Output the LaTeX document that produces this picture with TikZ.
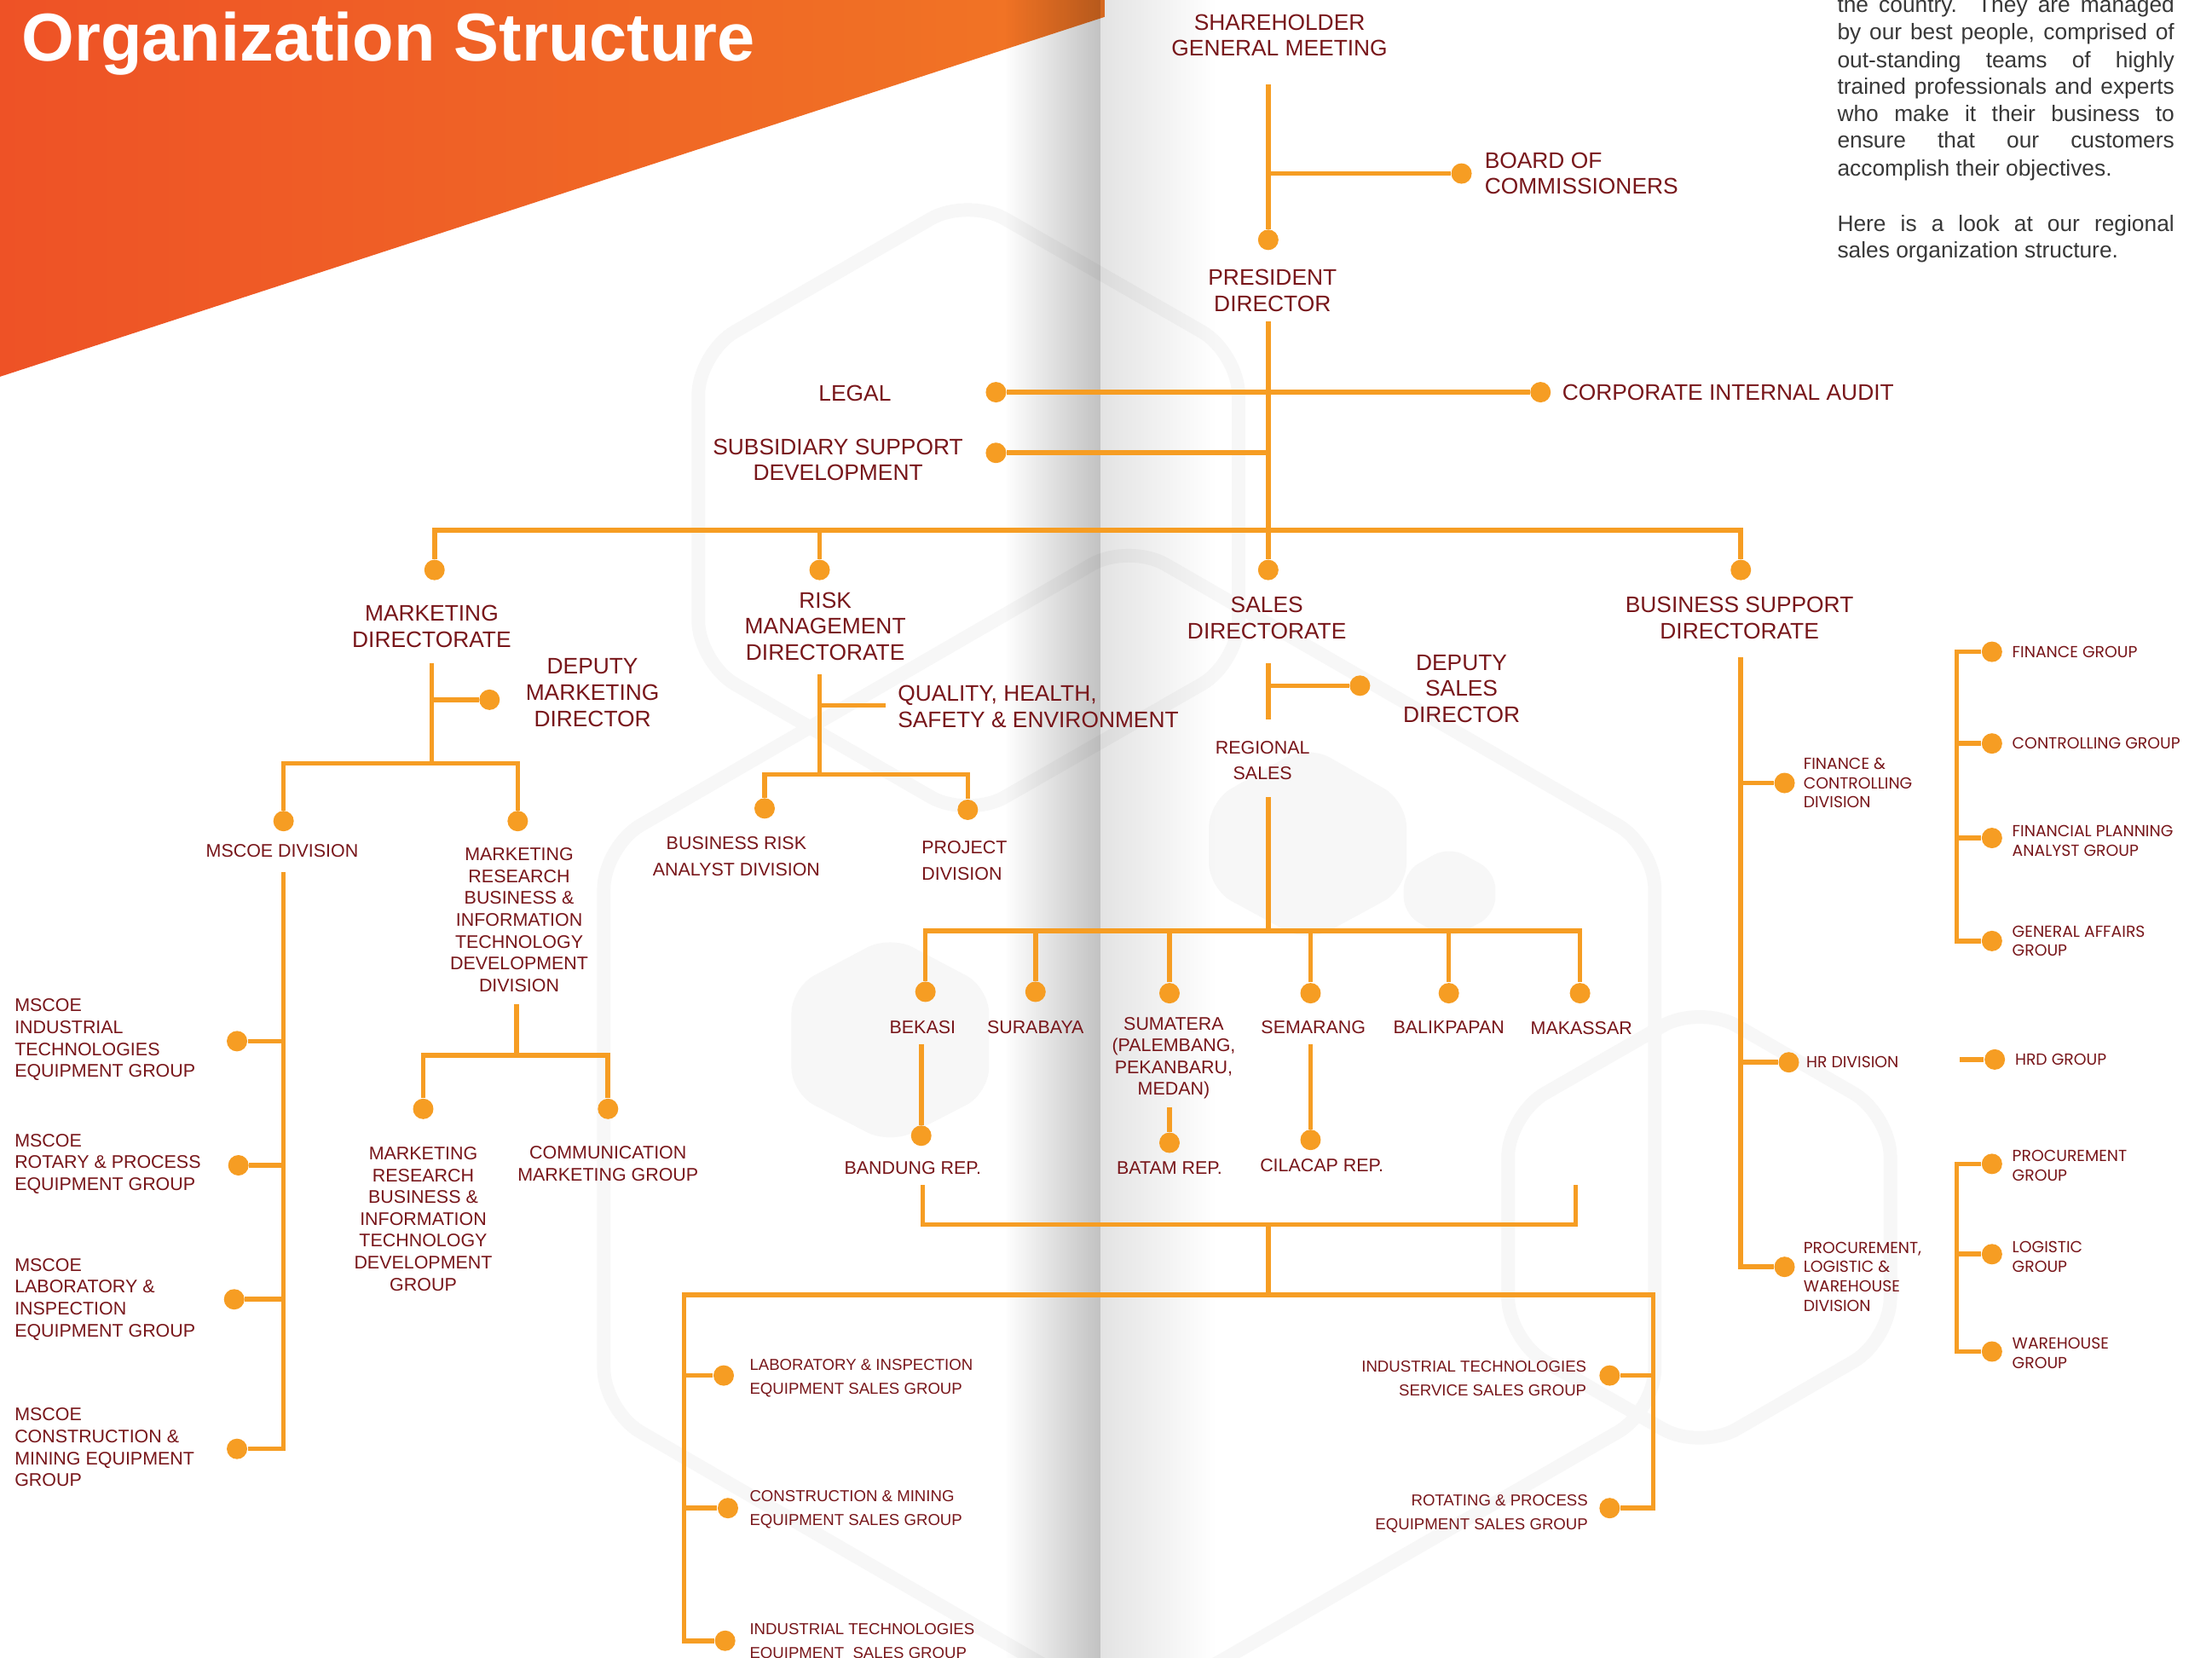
\documentclass[tikz,border=0pt]{standalone}
\usepackage{fontspec}
\setmainfont{Liberation Sans}
\newfontfamily\geofont{Poppins}
\usetikzlibrary{fadings}
\definecolor{orgline}{RGB}{246,157,35}
\definecolor{orgtext}{RGB}{120,22,26}
\definecolor{bannerL}{RGB}{238,82,38}
\definecolor{bannerR}{RGB}{241,118,37}
\definecolor{hexgray}{RGB}{247,247,247}
\tikzfading[name=fadein,left color=transparent!100,right color=transparent!76]
\tikzfading[name=fadeout,left color=transparent!89,right color=transparent!100]

\begin{document}
\begin{tikzpicture}[x=0.01655cm,y=-0.01655cm,
 ln/.style={orgline,line width=1.6pt},
 dot/.style={circle,fill=orgline,inner sep=0pt,minimum size=0.24cm},
 big/.style={orgtext,inner sep=0pt,align=center,font=\fontsize{7.5}{8.7}\selectfont},
 sml/.style={orgtext,inner sep=0pt,align=center,font=\fontsize{6.1}{7.3}\selectfont},
 smw/.style={orgtext,inner sep=0pt,align=center,font=\fontsize{6.1}{8.6}\selectfont},
 tny/.style={orgtext,inner sep=0pt,font=\fontsize{5.3}{7.9}\selectfont},
 geo/.style={orgtext,inner sep=0pt,align=left,anchor=west,font=\geofont\fontsize{5.35}{6.5}\selectfont},
 hex/.style={hexgray,line width=4.5pt,rounded corners=0.5cm},
 parl/.style={black!78,inner sep=0pt,anchor=base west,font=\fontsize{7.5}{9}\selectfont}]
\useasboundingbox (0,0) rectangle (1568,1175);
\clip (0,0) rectangle (1568,1175);
\fill[white] (0,0) rectangle (1568,1175);

% faint hexagons behind the chart
\draw[hex] (495,250) -- (686,140) -- (878,250) -- (878,470) -- (686,580) -- (495,470) -- cycle;
\draw[hex] (428,600) -- (800,385) -- (1173,600) -- (1173,1000) -- (800,1215) -- (428,1000) -- cycle;
\draw[hex] (1069,790) -- (1205,712) -- (1340,790) -- (1340,950) -- (1205,1028) -- (1069,950) -- cycle;
\fill[hexgray,rounded corners=0.3cm] (631,663) -- (701,700) -- (701,775) -- (631,811) -- (561,775) -- (561,700) -- cycle;
\fill[hexgray,rounded corners=0.3cm] (927,528) -- (997,568) -- (997,630) -- (927,668) -- (857,630) -- (857,568) -- cycle;
\fill[hexgray,rounded corners=0.2cm] (1027,600) -- (1060,618) -- (1060,648) -- (1027,666) -- (995,648) -- (995,618) -- cycle;

% banner
\shade[left color=bannerL,right color=bannerR] (0,0) -- (783,0) -- (783,12) -- (0,267) -- cycle;
\node[white,anchor=base west,inner sep=0pt,font=\bfseries\fontsize{22.6}{27}\selectfont] (title) at (15,43) {Organization Structure};

% gutter of the spread
\fill[black,path fading=fadein] (712,0) rectangle (780,1175);
\fill[black,path fading=fadeout] (780,0) rectangle (862,1175);

% text at the top right
\node[parl] (p1) at (1302,9) {\makebox[3.955cm][s]{the country. They are managed}};
\node[parl] (p2) at (1302,28) {\makebox[3.955cm][s]{by our best people, comprised of}};
\node[parl] (p3) at (1302,48) {\makebox[3.955cm][s]{out-standing teams of highly}};
\node[parl] (p4) at (1302,67) {\makebox[3.955cm][s]{trained professionals and experts}};
\node[parl] (p5) at (1302,86) {\makebox[3.955cm][s]{who make it their business to}};
\node[parl] (p6) at (1302,105) {\makebox[3.955cm][s]{ensure that our customers}};
\node[parl] (p7) at (1302,125) {accomplish their objectives.};
\node[parl] (p8) at (1302,164) {\makebox[3.955cm][s]{Here is a look at our regional}};
\node[parl] (p9) at (1302,183) {sales organization structure.};

% shareholders and board
\coordinate (SGb) at (899,60);
\coordinate (J1) at (899,123);
\node[big] (SGt) at (907,25) {SHAREHOLDER\\GENERAL MEETING};
\node[dot] (BC) at (1036,123) {};
\node[big,align=left,anchor=west] (BCt) at (1052,123) {BOARD OF\\COMMISSIONERS};
\node[dot] (PD) at (899,170) {};
\node[big] (PDt) at (902,206) {PRESIDENT\\DIRECTOR};
\draw[ln] (SGb)--(PD);
\draw[ln] (J1)--(BC);

% president director
\coordinate (PDb) at (899,228);
\coordinate (J3) at (899,321);
\coordinate (BL) at (308,376);
\coordinate (BR) at (1234,376);
\coordinate (BM) at (581,376);
\node[dot] (LG) at (706,278) {};
\node[dot] (CA) at (1092,278) {};
\node[dot] (SS) at (706,321) {};
\node[big] (LGt) at (606,279) {LEGAL};
\node[big,anchor=west] (CAt) at (1107,278) {CORPORATE INTERNAL AUDIT};
\node[big] (SSt) at (594,326) {SUBSIDIARY SUPPORT\\DEVELOPMENT};

% directorates
\node[dot] (MD) at (308,404) {};
\node[dot] (RD) at (581,404) {};
\node[dot] (SD) at (899,404) {};
\node[dot] (BD) at (1234,404) {};
\node[big] (MDt) at (306,444) {MARKETING\\DIRECTORATE};
\node[big] (RDt) at (585,444) {RISK\\MANAGEMENT\\DIRECTORATE};
\node[big] (SDt) at (898,438) {SALES\\DIRECTORATE};
\node[big] (BDt) at (1233,438) {BUSINESS SUPPORT\\DIRECTORATE};
\draw[ln] (LG)--(CA);
\draw[ln] (SS)--(J3);
\draw[ln] (PDb)--(SD);
\draw[ln] (MD)--(BL)--(BR)--(BD);
\draw[ln] (BM)--(RD);

% marketing
\coordinate (MDb) at (306,470);
\coordinate (J5) at (306,496);
\coordinate (J6) at (306,541);
\coordinate (J6l) at (201,541);
\coordinate (J6r) at (367,541);
\node[dot] (DM) at (347,496) {};
\node[big] (DMt) at (420,491) {DEPUTY\\MARKETING\\DIRECTOR};
\node[dot] (MS) at (201,582) {};
\node[dot] (MR) at (367,582) {};
\node[sml] (MSt) at (200,603) {MSCOE DIVISION};
\node[sml] (MRt) at (368,652) {MARKETING\\RESEARCH\\BUSINESS \&\\INFORMATION\\TECHNOLOGY\\DEVELOPMENT\\DIVISION};
\draw[ln] (MDb)--(J6);
\draw[ln] (J5)--(DM);
\draw[ln] (MS)--(J6l)--(J6r)--(MR);

\coordinate (MSb) at (201,618);
\coordinate (K1) at (201,738);
\coordinate (K2) at (201,826);
\coordinate (K3) at (201,921);
\coordinate (K4) at (201,1027);
\node[dot] (G1) at (168,738) {};
\node[dot] (G2) at (169,826) {};
\node[dot] (G3) at (166,921) {};
\node[dot] (G4) at (168,1027) {};
\node[sml,align=left,anchor=west] (G1t) at (10,737) {MSCOE\\INDUSTRIAL\\TECHNOLOGIES\\EQUIPMENT GROUP};
\node[sml,align=left,anchor=west] (G2t) at (10,825) {MSCOE\\ROTARY \& PROCESS\\EQUIPMENT GROUP};
\node[sml,align=left,anchor=west] (G3t) at (10,921) {MSCOE\\LABORATORY \&\\INSPECTION\\EQUIPMENT GROUP};
\node[sml,align=left,anchor=west] (G4t) at (10,1026) {MSCOE\\CONSTRUCTION \&\\MINING EQUIPMENT\\GROUP};
\draw[ln] (MSb)--(K4)--(G4);
\draw[ln] (K1)--(G1);
\draw[ln] (K2)--(G2);
\draw[ln] (K3)--(G3);

\coordinate (MRb) at (366,712);
\coordinate (J7) at (366,748);
\coordinate (J7l) at (300,748);
\coordinate (J7r) at (431,748);
\node[dot] (MG) at (300,786) {};
\node[dot] (CM) at (431,786) {};
\node[sml] (MGt) at (300,864) {MARKETING\\RESEARCH\\BUSINESS \&\\INFORMATION\\TECHNOLOGY\\DEVELOPMENT\\GROUP};
\node[sml] (CMt) at (431,825) {COMMUNICATION\\MARKETING GROUP};
\draw[ln] (MRb)--(J7);
\draw[ln] (MG)--(J7l)--(J7r)--(CM);

% risk management
\coordinate (RDb) at (581,478);
\coordinate (J8) at (581,500);
\coordinate (QHe) at (628,500);
\coordinate (J9) at (581,549);
\coordinate (J9l) at (542,549);
\coordinate (J9r) at (686,549);
\node[big,align=left,anchor=west] (QHt) at (636,501) {QUALITY, HEALTH,\\SAFETY \& ENVIRONMENT};
\node[dot] (BA) at (542,573) {};
\node[dot] (PJ) at (686,574) {};
\node[smw] (BAt) at (522,607) {BUSINESS RISK\\ANALYST DIVISION};
\node[smw,align=left,anchor=west] (PJt) at (653,610) {PROJECT\\DIVISION};
\draw[ln] (RDb)--(J9);
\draw[ln] (J8)--(QHe);
\draw[ln] (BA)--(J9l)--(J9r)--(PJ);

% sales
\coordinate (SDb) at (899,470);
\coordinate (J10) at (899,486);
\coordinate (J10b) at (899,510);
\node[dot] (DS) at (964,486) {};
\node[big] (DSt) at (1036,488) {DEPUTY\\SALES\\DIRECTOR};
\node[smw] (RSt) at (895,539) {REGIONAL\\SALES};
\draw[ln] (SDb)--(J10b);
\draw[ln] (J10)--(DS);

\coordinate (RSb) at (899,565);
\coordinate (J11) at (899,660);
\coordinate (J11l) at (656,660);
\coordinate (J11r) at (1120,660);
\node[dot] (C1) at (656,703) {};
\node[dot] (C2) at (734,703) {};
\node[dot] (C3) at (829,704) {};
\node[dot] (C4) at (929,704) {};
\node[dot] (C5) at (1027,704) {};
\node[dot] (C6) at (1120,704) {};
\draw[ln] (RSb)--(J11);
\draw[ln] (C1)--(J11l)--(J11r)--(C6);
\draw[ln] (C2)--(C2|-J11);
\draw[ln] (C3)--(C3|-J11);
\draw[ln] (C4)--(C4|-J11);
\draw[ln] (C5)--(C5|-J11);
\node[sml] (C1t) at (654,728) {BEKASI};
\node[sml] (C2t) at (734,728) {SURABAYA};
\node[sml] (C3t) at (832,750) {SUMATERA\\(PALEMBANG,\\PEKANBARU,\\MEDAN)};
\node[sml] (C4t) at (931,728) {SEMARANG};
\node[sml] (C5t) at (1027,728) {BALIKPAPAN};
\node[sml] (C6t) at (1121,729) {MAKASSAR};

\coordinate (C1b) at (653,740);
\coordinate (C3b) at (829,785);
\coordinate (C4b) at (929,740);
\node[dot] (R1) at (653,805) {};
\node[dot] (R2) at (829,810) {};
\node[dot] (R3) at (929,808) {};
\node[sml] (R1t) at (647,828) {BANDUNG REP.};
\node[sml] (R2t) at (829,828) {BATAM REP.};
\node[sml] (R3t) at (937,826) {CILACAP REP.};
\draw[ln] (C1b)--(R1);
\draw[ln] (C3b)--(R2);
\draw[ln] (C4b)--(R3);

\coordinate (Q1) at (654,840);
\coordinate (Q2) at (654,868);
\coordinate (Q3) at (1117,868);
\coordinate (Q4) at (1117,840);
\coordinate (Q5) at (899,868);
\coordinate (Q6) at (899,918);
\coordinate (Q7) at (485,918);
\coordinate (Q8) at (1172,918);
\coordinate (Q9) at (485,1163);
\coordinate (Q10) at (1172,1069);
\node[dot] (S1) at (513,975) {};
\node[dot] (S2) at (516,1069) {};
\node[dot] (S3) at (514,1163) {};
\node[dot] (S4) at (1141,975) {};
\node[dot] (S5) at (1141,1069) {};
\draw[ln] (Q1)--(Q2)--(Q3)--(Q4);
\draw[ln] (Q5)--(Q6);
\draw[ln] (S3)--(Q9)--(Q7)--(Q8)--(Q10)--(S5);
\draw[ln] (S1-|Q7)--(S1);
\draw[ln] (S2-|Q7)--(S2);
\draw[ln] (S4-|Q8)--(S4);
\node[tny,align=left,anchor=west] (S1t) at (531,977) {LABORATORY \& INSPECTION\\EQUIPMENT SALES GROUP};
\node[tny,align=left,anchor=west] (S2t) at (531,1070) {CONSTRUCTION \& MINING\\EQUIPMENT SALES GROUP};
\node[tny,align=left,anchor=west] (S3t) at (531,1164) {INDUSTRIAL TECHNOLOGIES\\EQUIPMENT\ \ SALES GROUP};
\node[tny,align=right,anchor=east] (S4t) at (1125,977) {INDUSTRIAL TECHNOLOGIES\\SERVICE SALES GROUP};
\node[tny,align=right,anchor=east] (S5t) at (1126,1073) {ROTATING \& PROCESS\\EQUIPMENT SALES GROUP};

% business support
\coordinate (BDb) at (1234,466);
\coordinate (L3) at (1234,898);
\node[dot] (FC) at (1265,555) {};
\node[dot] (HR) at (1268,753) {};
\node[dot] (PL) at (1265,898) {};
\draw[ln] (BDb)--(L3)--(PL);
\draw[ln] (FC-|BDb)--(FC);
\draw[ln] (HR-|BDb)--(HR);
\node[geo] (FCt) at (1278,555) {FINANCE \&\\CONTROLLING\\DIVISION};
\node[geo] (HRt) at (1280,753) {HR DIVISION};
\node[geo] (PLt) at (1278,905) {PROCUREMENT,\\LOGISTIC \&\\WAREHOUSE\\DIVISION};

\coordinate (V1) at (1387,462);
\coordinate (V2) at (1387,667);
\node[dot] (F1) at (1412,462) {};
\node[dot] (F2) at (1412,527) {};
\node[dot] (F3) at (1412,594) {};
\node[dot] (F4) at (1412,667) {};
\draw[ln] (F1)--(V1)--(V2)--(F4);
\draw[ln] (F2-|V1)--(F2);
\draw[ln] (F3-|V1)--(F3);
\node[geo] (F1t) at (1426,462) {FINANCE GROUP};
\node[geo] (F2t) at (1426,527) {CONTROLLING GROUP};
\node[geo] (F3t) at (1426,596) {FINANCIAL PLANNING\\ANALYST GROUP};
\node[geo] (F4t) at (1426,667) {GENERAL AFFAIRS\\GROUP};

\coordinate (V3) at (1389,751);
\node[dot] (HG) at (1414,751) {};
\draw[ln] (V3)--(HG);
\node[geo] (HGt) at (1428,751) {HRD GROUP};

\coordinate (V4) at (1387,825);
\coordinate (V5) at (1387,958);
\node[dot] (P1) at (1412,825) {};
\node[dot] (P2) at (1412,889) {};
\node[dot] (P3) at (1412,958) {};
\draw[ln] (P1)--(V4)--(V5)--(P3);
\draw[ln] (P2-|V4)--(P2);
\node[geo] (P1t) at (1426,826) {PROCUREMENT\\GROUP};
\node[geo] (P2t) at (1426,891) {LOGISTIC\\GROUP};
\node[geo] (P3t) at (1426,959) {WAREHOUSE\\GROUP};
\end{tikzpicture}
\end{document}
